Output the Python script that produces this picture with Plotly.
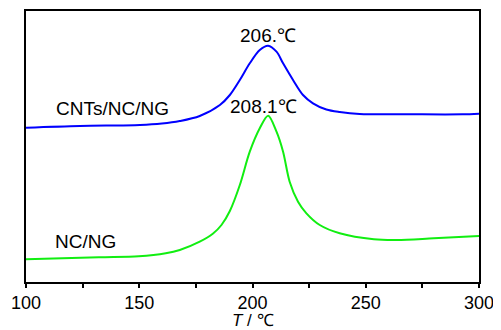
import plotly.graph_objects as go

# Data (temperature in °C, heat-flow signal in arbitrary units)
cnt_T = [100, 123.8, 150.3, 160, 167.9, 176.7, 185.6, 190.0, 194.4, 198.8, 203.2, 206.9,
         210.6, 213.5, 217.9, 222.3, 226.7, 232.6, 238.5, 247.3, 270, 292.7, 300]
cnt_y = [154.3, 156, 157, 158.5, 161, 166, 177, 187, 202, 218.7, 232, 236.3,
         230.3, 218.7, 202, 187, 178.7, 172.5, 170, 168, 167.7, 167.7, 168.3]

ng_T = [100, 132.2, 149.8, 161.7, 167.9, 176.7, 182.6, 186.3, 190.0, 194.4, 198.8, 203.2,
        206.9, 210.6, 213.5, 216.4, 220.1, 223.8, 229.7, 238.5, 253.6, 263.8, 280, 300]
ng_y = [22.7, 24.7, 25.7, 28.7, 32, 40.3, 48.5, 57, 71, 97, 130.3, 153.7,
        166.3, 150.3, 130.3, 100.3, 80.3, 68.7, 57, 48.7, 42.7, 42, 43.7, 46]

x_ticks = [100, 125, 150, 175, 200, 225, 250, 275, 300]
x_labels = ["100", "", "150", "", "200", "", "250", "", "300"]

FONT = "Liberation Sans, Arial, sans-serif"
FS = 19
FS_AX = 18
FS_TITLE = 17

fig = go.Figure()
fig.add_trace(go.Scatter(x=cnt_T, y=cnt_y, mode="lines",
                         line=dict(color="#0000ff", width=2, shape="spline", smoothing=0.9),
                         showlegend=False))
fig.add_trace(go.Scatter(x=ng_T, y=ng_y, mode="lines",
                         line=dict(color="#11ee11", width=2, shape="spline", smoothing=0.9),
                         showlegend=False))

annots = [
    dict(x=206.7, y=247, text="206.℃"),
    dict(x=205.0, y=176, text="208.1℃"),
    dict(x=138.1, y=174, text="CNTs/NC/NG"),
    dict(x=126.2, y=40.3, text="NC/NG"),
]
for a in annots:
    fig.add_annotation(x=a["x"], y=a["y"], text=a["text"], showarrow=False,
                       xanchor="center", yanchor="middle",
                       font=dict(family=FONT, size=FS, color="black"))

fig.add_annotation(xref="paper", yref="paper", x=0.5, y=-0.1439, text="<i>T</i> / ℃",
                   showarrow=False, xanchor="center", yanchor="middle",
                   font=dict(family=FONT, size=FS_TITLE, color="black"))

# The page body has an 8px margin, so the figure is sized/margined to land the plot
# area where the reference has it within the 501x330 window.
fig.update_layout(
    width=493, height=322,
    margin=dict(l=18, r=21.5, t=3, b=48),
    paper_bgcolor="white", plot_bgcolor="white",
    font=dict(family=FONT, size=FS_AX, color="black"),
    xaxis=dict(range=[100, 300], tickvals=x_ticks, ticktext=x_labels,
               ticks="outside", ticklen=4, tickwidth=1.5, tickcolor="black",
               ticklabelstandoff=-1,
               showline=True, linecolor="black", linewidth=2, mirror=True,
               showgrid=False, zeroline=False, automargin=False,
               tickfont=dict(family=FONT, size=FS_AX)),
    yaxis=dict(range=[0, 271], showticklabels=False, ticks="",
               showline=True, linecolor="black", linewidth=2, mirror=True,
               showgrid=False, zeroline=False, automargin=False),
)

fig.write_html("out.html")
